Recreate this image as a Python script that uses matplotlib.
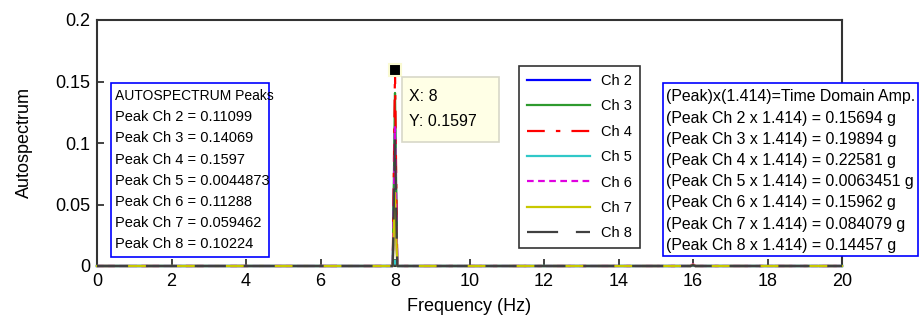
import matplotlib
matplotlib.use("Agg")
import matplotlib.pyplot as plt
from matplotlib.patches import Rectangle

# ---- data ----
freq = [0.0, 7.94, 7.97, 8.0, 8.03, 8.06, 15.94, 15.97, 16.0, 16.03, 16.06, 20.0]
ch2 = [0.0, 0.0, 0.056, 0.11099, 0.054, 0.0, 0.0, 0.0004, 0.0008, 0.0004, 0.0, 0.0]
ch3 = [0.0, 0.0, 0.070, 0.14069, 0.068, 0.0, 0.0, 0.0004, 0.0009, 0.0004, 0.0, 0.0]
ch4 = [0.0, 0.0, 0.080, 0.1597, 0.077, 0.0, 0.0, 0.0005, 0.0010, 0.0005, 0.0, 0.0]
ch5 = [0.0, 0.0, 0.0022, 0.0044873, 0.0021, 0.0, 0.0, 0.0001, 0.0002, 0.0001, 0.0, 0.0]
ch6 = [0.0, 0.0, 0.057, 0.11288, 0.055, 0.0, 0.0, 0.0008, 0.0016, 0.0008, 0.0, 0.0]
ch7 = [0.0, 0.0, 0.030, 0.059462, 0.029, 0.0, 0.0, 0.0006, 0.0012, 0.0006, 0.0, 0.0]
ch8 = [0.0, 0.0, 0.051, 0.10224, 0.050, 0.0, 0.0, 0.0004, 0.0008, 0.0004, 0.0, 0.0]
series = [("Ch 2", ch2), ("Ch 3", ch3), ("Ch 4", ch4), ("Ch 5", ch5),
          ("Ch 6", ch6), ("Ch 7", ch7), ("Ch 8", ch8)]

peak_labels = ["2", "3", "4", "5", "6", "7", "8"]
peak_values = ["0.11099", "0.14069", "0.1597", "0.0044873", "0.11288", "0.059462", "0.10224"]
amp_values = ["0.15694", "0.19894", "0.22581", "0.0063451", "0.15962", "0.084079", "0.14457"]
tip_x = 8
tip_y = 0.1597

xticks = [0, 2, 4, 6, 8, 10, 12, 14, 16, 18, 20]
yticks = [0, 0.05, 0.1, 0.15, 0.2]
yticklabels = ["0", "0.05", "0.1", "0.15", "0.2"]

# ---- styles ----
styles = {
    "Ch 2": dict(color="#0000ff", ls="-"),
    "Ch 3": dict(color="#2e9a2e", ls="-"),
    "Ch 4": dict(color="#ff0000", ls=(0, (8, 5, 2, 5))),
    "Ch 5": dict(color="#30c8c8", ls="-"),
    "Ch 6": dict(color="#e000e0", ls=(0, (3, 2))),
    "Ch 7": dict(color="#c8c800", ls="-"),
    "Ch 8": dict(color="#404040", ls=(0, (14, 8))),
}

W, H = 921, 328
fig = plt.figure(figsize=(W / 100, H / 100), dpi=100)
fig.patch.set_facecolor("white")

def fx(x):
    return x / W

def fy(y):
    return 1 - y / H

ax = fig.add_axes([fx(97), fy(266), fx(842) - fx(97), fy(20) - fy(266)])
for name, vals in series:
    st = styles[name]
    ax.plot(freq, vals, color=st["color"], linestyle=st["ls"], lw=1.6, label=name,
            zorder=3, clip_on=False)

ax.set_xlim(0, 20)
ax.set_ylim(0, 0.2)
ax.set_xticks(xticks)
ax.set_yticks(yticks)
ax.set_yticklabels(yticklabels)
for lab in ax.get_xticklabels() + ax.get_yticklabels():
    lab.set_fontfamily("Liberation Sans")
    lab.set_fontsize(13)
ax.tick_params(direction="in", length=5, width=1.2, color="#222222", pad=5)
for sp in ax.spines.values():
    sp.set_linewidth(1.5)
    sp.set_color("#333333")
    sp.set_zorder(2)
ax.set_xlabel("Frequency (Hz)", fontfamily="Liberation Sans", fontsize=13, labelpad=6)
ax.set_ylabel("Autospectrum", fontfamily="Liberation Sans", fontsize=13, labelpad=16)

# data tip marker
ax.plot([tip_x], [tip_y], marker="s", ms=9, mfc="black", mec="#fafad2", mew=1.5,
        ls="none", zorder=10, clip_on=False)

# legend
leg = ax.legend(loc="upper left", bbox_to_anchor=(fx(519), fy(66)),
                bbox_transform=fig.transFigure, frameon=True, fancybox=False,
                edgecolor="black", handlelength=4.3, handletextpad=0.8,
                labelspacing=0.78, borderpad=0.55, borderaxespad=0,
                prop=dict(family="Liberation Sans", size=10.5))
leg.get_frame().set_linewidth(1.2)
leg.set_zorder(20)

# left text box
fig.patches.append(Rectangle((fx(111), fy(257)), fx(269) - fx(111), fy(83) - fy(257),
                             transform=fig.transFigure, facecolor="white",
                             edgecolor="#0000ff", lw=1.2, zorder=5))
left_lines = ["AUTOSPECTRUM Peaks"] + ["Peak Ch %s = %s" % (c, v) for c, v in zip(peak_labels, peak_values)]
for i, t in enumerate(left_lines):
    size = 10 if i == 0 else 10.5
    fig.text(fx(115), fy(96 + 21.2 * i), t, va="center", ha="left", zorder=6,
             family="Liberation Sans", size=size)

# right text box
fig.patches.append(Rectangle((fx(663), fy(256)), fx(918) - fx(663), fy(83) - fy(256),
                             transform=fig.transFigure, facecolor="white",
                             edgecolor="#0000ff", lw=1.2, zorder=5))
right_lines = ["(Peak)x(1.414)=Time Domain Amp."] + \
    ["(Peak Ch %s x 1.414) = %s g" % (c, v) for c, v in zip(peak_labels, amp_values)]
for i, t in enumerate(right_lines):
    fig.text(fx(666), fy(97 + 21.2 * i), t, va="center", ha="left", zorder=6,
             family="Liberation Sans", size=11.4)

# data tip box
fig.patches.append(Rectangle((fx(402), fy(142)), fx(499) - fx(402), fy(77) - fy(142),
                             transform=fig.transFigure, facecolor="#ffffe6",
                             edgecolor="#d8d8c8", lw=1.2, zorder=5))
fig.text(fx(409), fy(97), "X: %g" % tip_x, va="center", ha="left", zorder=6,
         family="Liberation Sans", size=11.5)
fig.text(fx(409), fy(121), "Y: %g" % tip_y, va="center", ha="left", zorder=6,
         family="Liberation Sans", size=11.5)

fig.savefig("out.png", dpi=100)
